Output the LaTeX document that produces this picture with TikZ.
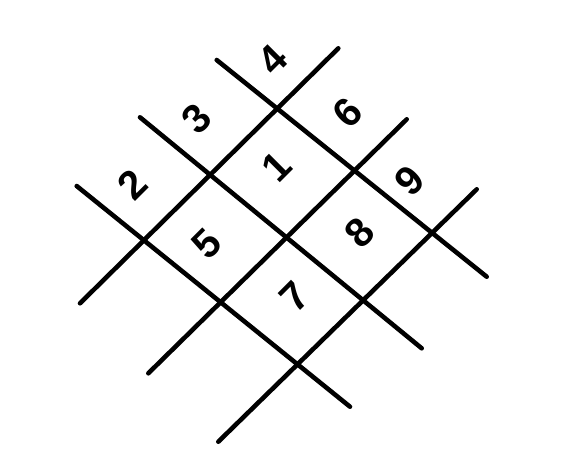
\documentclass[tikz,border=0pt]{standalone}
\usepackage{fontspec}
\setmainfont{Liberation Sans}
\begin{document}
\begin{tikzpicture}[
    x=0.02cm, y=-0.02cm,
    gridline/.style={line width=2.6pt, line cap=round, draw=black},
    digit/.style={font=\fontsize{23}{23}\selectfont\bfseries, rotate=45, inner sep=0pt}
]
\useasboundingbox (0,0) rectangle (563,464);

% Grid lines (down-right)
\draw[gridline] (216.7,60) -- (486.7,276.7);
\draw[gridline] (140,117.3) -- (421.7,348.3);
\draw[gridline] (76.7,186) -- (350,406.7);

% Grid lines (up-right)
\draw[gridline] (80,303.3) -- (338.3,48.3);
\draw[gridline] (148.3,373.3) -- (406.7,119.3);
\draw[gridline] (218.3,441.7) -- (476.7,189.3);

% Numbers
\node[digit] (one) at (277,167) {1};
\node[digit] (two) at (132,185) {2};
\node[digit] (three) at (197,119) {3};
\node[digit] (four) at (273,60) {4};
\node[digit] (five) at (207,244) {5};
\node[digit] (six) at (348,113) {6};
\node[digit] (seven) at (295,297) {7};
\node[digit] (eight) at (360,233) {8};
\node[digit] (nine) at (410,181) {9};

\end{tikzpicture}
\end{document}
